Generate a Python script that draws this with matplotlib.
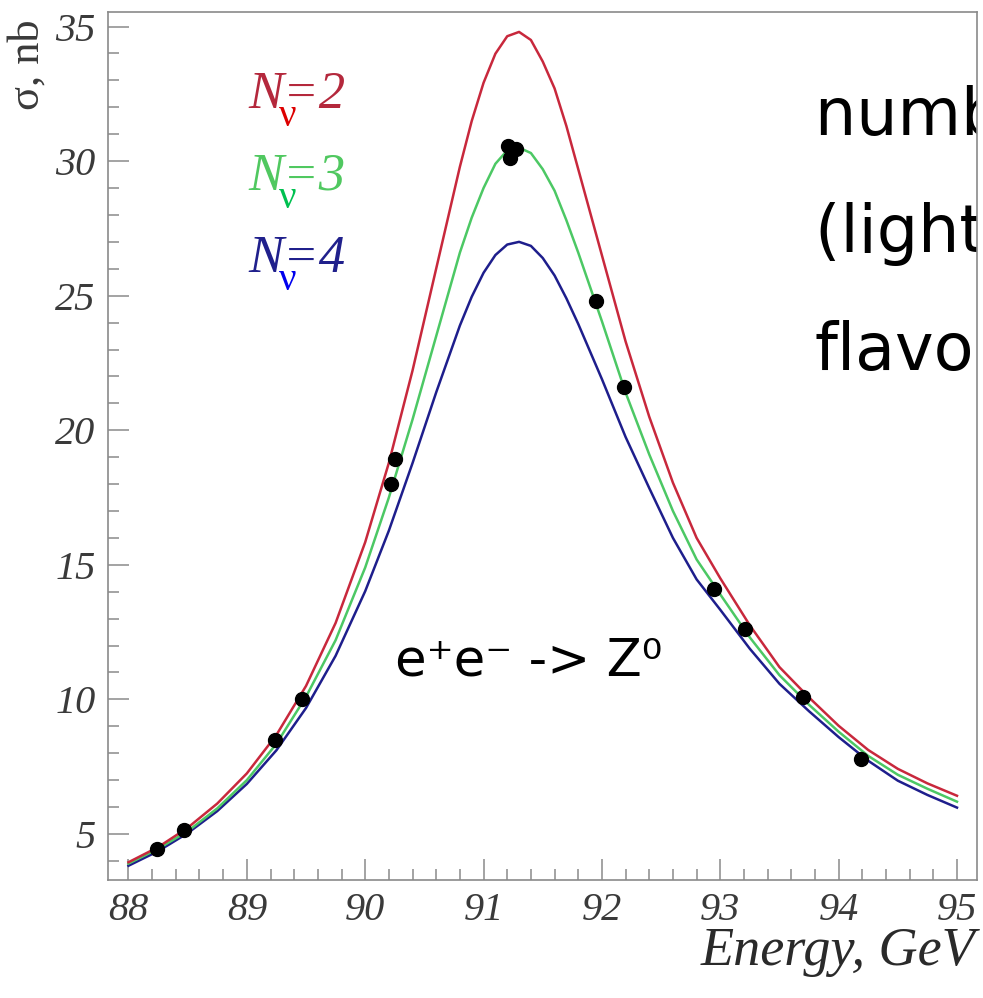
import matplotlib
matplotlib.use("Agg")
import matplotlib.pyplot as plt
from matplotlib.ticker import MultipleLocator

# energy grid (GeV) and cross sections (nb)
energy = [88.0, 88.25, 88.5, 88.75, 89.0, 89.25, 89.5, 89.75,
          90.0, 90.2, 90.4, 90.6, 90.8, 90.9, 91.0, 91.1, 91.2, 91.3,
          91.4, 91.5, 91.6, 91.7, 91.8, 92.0,
          92.2, 92.4, 92.6, 92.8, 93.0,
          93.25, 93.5, 93.75, 94.0, 94.25, 94.5, 94.75, 95.0]
sigma_n2 = [3.95, 4.51, 5.23, 6.13, 7.25, 8.68, 10.5, 12.84,
            15.84, 18.79, 22.22, 26.01, 29.79, 31.49, 32.91, 33.99, 34.64, 34.8,
            34.5, 33.7, 32.7, 31.3, 29.7, 26.5,
            23.3, 20.5, 18.05, 16.0, 14.5,
            12.75, 11.2, 10.07, 9.02, 8.12, 7.42, 6.88, 6.42]
sigma_n3 = [3.9, 4.45, 5.1, 5.95, 7.0, 8.35, 10.1, 12.2,
            14.9, 17.5, 20.4, 23.5, 26.6, 27.9, 29.0, 29.9, 30.4, 30.5,
            30.3, 29.7, 28.9, 27.8, 26.6, 24.05,
            21.4, 19.1, 17.0, 15.2, 13.9,
            12.3, 10.9, 9.8, 8.8, 7.9, 7.2, 6.68, 6.2]
sigma_n4 = [3.82, 4.36, 5.03, 5.85, 6.86, 8.11, 9.68, 11.62,
            14.02, 16.27, 18.78, 21.41, 23.89, 24.96, 25.85, 26.51, 26.9, 27.0,
            26.85, 26.4, 25.75, 24.9, 23.95, 21.9,
            19.75, 17.85, 16.0, 14.46, 13.33,
            11.88, 10.58, 9.56, 8.6, 7.72, 6.98, 6.45, 5.98]

# measured points
data_e = [88.24, 88.47, 89.24, 89.47, 90.22, 90.25, 91.21, 91.22, 91.27,
          91.95, 92.19, 92.95, 93.21, 93.70, 94.19]
data_sigma = [4.45, 5.15, 8.5, 10.0, 18.0, 18.95, 30.55, 30.1, 30.45,
              24.8, 21.6, 14.1, 12.6, 10.1, 7.8]

W, H = 983, 998
fig = plt.figure(figsize=(W / 100, H / 100), dpi=100)
ax = fig.add_axes([108 / W, 1 - 880 / H, (977 - 108) / W, (880 - 12) / H])

def fx(px):
    return px / W

def fy(py):
    return 1 - py / H

ax.plot(energy, sigma_n4, color="#1e1e8c", lw=1.8, zorder=3)
ax.plot(energy, sigma_n3, color="#4cc864", lw=1.8, zorder=3)
ax.plot(energy, sigma_n2, color="#c8283c", lw=1.8, zorder=3)
ax.plot(data_e, data_sigma, "o", color="black", ms=10, zorder=5)

ax.set_xlim(87.827, 95.169)
ax.set_ylim(3.29, 35.54)
ax.xaxis.set_major_locator(MultipleLocator(1))
ax.xaxis.set_minor_locator(MultipleLocator(0.2))
ax.yaxis.set_major_locator(MultipleLocator(5))
ax.yaxis.set_minor_locator(MultipleLocator(1))
ax.tick_params(which="both", direction="in", colors="#8a8a8a", width=1.1,
               labelcolor="#3a3a3a", top=False, right=False)
ax.tick_params(which="major", length=15, pad=9)
ax.tick_params(which="minor", length=8)
for lab in ax.get_xticklabels() + ax.get_yticklabels():
    lab.set_fontfamily("Liberation Serif")
    lab.set_fontstyle("italic")
    lab.set_fontsize(29)
for sp in ax.spines.values():
    sp.set_color("#8a8a8a")
    sp.set_linewidth(1.2)
    sp.set_zorder(6)

fig.text(fx(28), fy(65), "σ, nb", rotation=90, ha="center", va="center",
         fontsize=32, family="Liberation Serif", color="#3a3a3a")
fig.text(fx(975), fy(965), "Energy, GeV", ha="right", va="baseline",
         fontsize=39, family="Liberation Serif", style="italic", color="#2a2a2a")

# legend labels N_nu = 2, 3, 4
legend = [("=2", "#b4283c", "#dd0000", 108),
          ("=3", "#50c860", "#00c050", 190),
          ("=4", "#20208c", "#0000ee", 272)]
for txt, c_main, c_nu, base in legend:
    fig.text(fx(248), fy(base), "N" + txt, ha="left", va="baseline",
             fontsize=38, family="Liberation Serif", style="italic", color=c_main)
    fig.text(fx(288), fy(base + 18), "ν", ha="center", va="baseline",
             fontsize=28, family="Liberation Serif", color=c_nu)

ax.text(fx(395), fy(675), "e⁺e⁻ -> Z⁰", transform=fig.transFigure,
        ha="left", va="baseline", fontsize=37, family="DejaVu Sans", color="black")

# side note, cut off by the right edge of the frame as in the original slide
for base, line in [(135, "number of"), (252, "(light) neutrino"), (370, "flavours")]:
    ax.text(fx(815), fy(base), line, transform=fig.transFigure, ha="left",
            va="baseline", fontsize=47, family="DejaVu Sans", color="black",
            clip_on=True)

fig.savefig("out.png", dpi=100)
